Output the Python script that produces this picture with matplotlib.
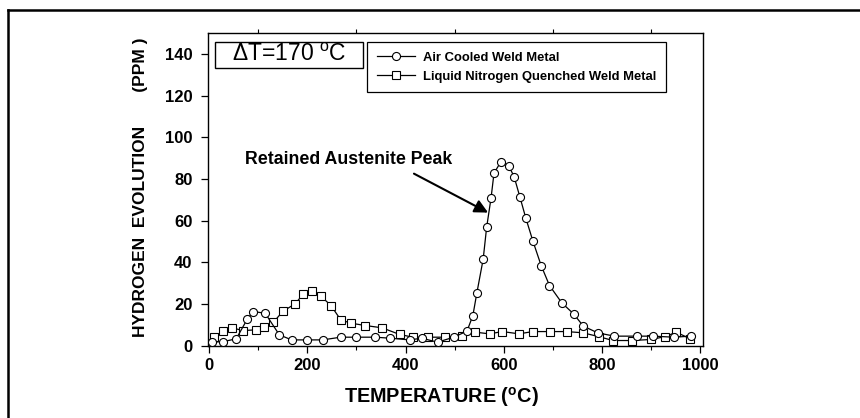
import matplotlib
matplotlib.use("Agg")
import matplotlib.pyplot as plt
from matplotlib.lines import Line2D
from matplotlib.patches import Rectangle

plt.rcParams['font.family'] = ['Liberation Sans', 'DejaVu Sans']
plt.rcParams['mathtext.fontset'] = 'custom'
plt.rcParams['mathtext.rm'] = 'Liberation Sans'
plt.rcParams['mathtext.bf'] = 'Liberation Sans:bold'

# Hydrogen evolution (ppm) versus temperature (deg C)
air_temp = [5, 29, 55, 78, 90, 114, 143, 168, 200, 231, 268, 299, 338, 369, 408,
            433, 465, 498, 525, 537, 545, 558, 565, 574, 580, 594, 610, 621, 633,
            645, 659, 676, 693, 718, 742, 762, 791, 825, 872, 904, 946, 982]
air_h2 = [1.6, 1.9, 3.2, 12.8, 16.3, 15.5, 5.1, 2.7, 2.7, 2.7, 4.0, 4.0, 4.0, 3.5,
          2.7, 3.5, 1.6, 4.0, 6.9, 14.4, 25.1, 41.5, 56.7, 70.8, 82.7, 88.2, 86.3,
          81.0, 71.1, 61.0, 50.3, 38.4, 28.8, 20.5, 15.2, 9.3, 6.1, 4.5, 4.5, 4.5,
          4.0, 4.5]

ln2_temp = [9, 29, 46, 69, 95, 112, 131, 150, 175, 192, 209, 228, 248, 268, 289,
            318, 352, 388, 415, 445, 481, 515, 542, 571, 597, 631, 659, 694, 728,
            761, 793, 822, 861, 900, 929, 951, 980]
ln2_h2 = [4.3, 6.9, 8.5, 7.2, 7.5, 9.1, 11.2, 16.4, 20.0, 24.8, 26.4, 23.6, 19.2,
          12.3, 10.7, 9.6, 8.5, 5.3, 4.0, 4.0, 4.0, 4.8, 6.4, 5.6, 6.7, 5.6, 6.7,
          6.7, 6.7, 6.1, 4.3, 2.4, 2.4, 2.9, 4.3, 6.4, 3.2]

series_labels = ["Air Cooled Weld Metal", "Liquid Nitrogen Quenched Weld Metal"]
x_ticks = [0, 200, 400, 600, 800, 1000]
y_ticks = [0, 20, 40, 60, 80, 100, 120, 140]

fig = plt.figure(figsize=(8.6, 4.18), dpi=100)
ax = fig.add_axes([0.2415, 0.1734, 0.5756, 0.7476])

ax.plot(air_temp, air_h2, color='black', lw=0.9, marker='o', ms=5.8,
        mfc='white', mec='black', mew=0.8, label=series_labels[0], zorder=3)
ax.plot(ln2_temp, ln2_h2, color='black', lw=0.9, marker='s', ms=5.4,
        mfc='white', mec='black', mew=0.8, label=series_labels[1], zorder=2)

ax.set_xlim(-3, 1005)
ax.set_ylim(0, 150)
ax.set_xticks(x_ticks)
ax.set_yticks(y_ticks)
ax.set_xticks(range(100, 1000, 200), minor=True)
ax.tick_params(axis='both', which='major', direction='out', length=5, width=0.9,
               labelsize=12, pad=4)
ax.tick_params(axis='y', which='major', pad=6)
ax.tick_params(axis='x', which='minor', direction='out', length=3, width=0.8,
               top=True)
for lab in ax.get_xticklabels() + ax.get_yticklabels():
    lab.set_fontweight('bold')
for sp in ax.spines.values():
    sp.set_linewidth(1.0)

leg = ax.legend(loc='upper left', bbox_to_anchor=(0.322, 0.971), frameon=True,
                fancybox=False, edgecolor='black', framealpha=1,
                prop={'size': 9.4, 'weight': 'bold'}, handlelength=2.9,
                handletextpad=0.6, labelspacing=0.5, borderpad=0.75,
                borderaxespad=0)
leg.get_frame().set_linewidth(0.9)

# Delta-T box
ax.add_patch(Rectangle((0.0147, 0.888), 0.299, 0.0832, transform=ax.transAxes,
                       fill=False, edgecolor='black', lw=1.0, zorder=5))
ax.text(0.164, 0.930, r'ΔT=170 $^{\mathrm{o}}$C', transform=ax.transAxes,
        ha='center', va='center', fontsize=16.5)

ax.annotate('', xy=(568, 63.8), xytext=(417, 82.5),
            arrowprops=dict(arrowstyle='-|>', color='black', lw=1.5,
                            mutation_scale=20, shrinkA=0, shrinkB=0))
ax.text(73, 89.2, 'Retained Austenite Peak', ha='left', va='center',
        fontsize=12.8, fontweight='bold')

ax.set_xlabel(r'TEMPERATURE ($^{\mathbf{o}}$C)', fontsize=14.3,
              fontweight='bold', va='center')
ax.xaxis.set_label_coords((441.5 - 207.7) / 495, -(397 - 345.5) / 312.5)

fig.text(141 / 860, 1 - 187 / 418, 'HYDROGEN  EVOLUTION       (PPM )',
         rotation=90, ha='center', va='center', fontsize=12.5,
         fontweight='bold')

# outer frame (top and left edges)
fig.add_artist(Line2D([8 / 860, 8 / 860], [0, 1 - 10 / 418], color='black',
                      lw=1.8, transform=fig.transFigure))
fig.add_artist(Line2D([8 / 860, 1], [1 - 10 / 418, 1 - 10 / 418],
                      color='black', lw=1.8, transform=fig.transFigure))

fig.savefig('out.png', dpi=100)
